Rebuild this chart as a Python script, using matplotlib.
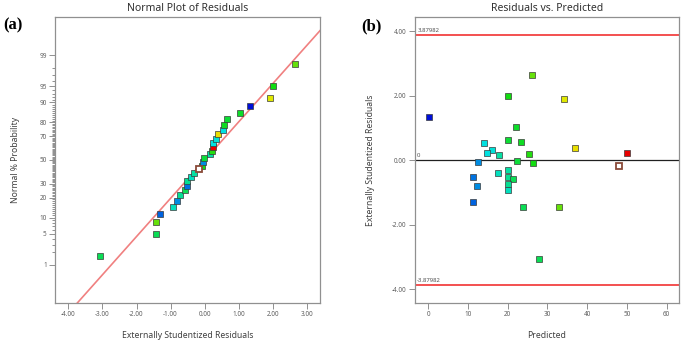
from statistics import NormalDist

import numpy as np
import matplotlib.pyplot as plt
from matplotlib.colors import LinearSegmentedColormap, Normalize

# predicted value, externally studentized residual and measured response per run
predicted = [26.0, 20.1, 34.1, 0.25, 22.1, 20.1, 23.3, 13.9, 16.0, 14.8,
             17.8, 36.9, 25.3, 50.1, 12.5, 22.4, 26.4, 48.0, 17.5, 11.2,
             20.1, 20.1, 21.4, 20.1, 20.1, 12.2, 11.2, 23.9, 33.0, 27.9]
residuals = [2.65, 2.00, 1.91, 1.34, 1.02, 0.64, 0.56, 0.55, 0.33, 0.24,
             0.16, 0.39, 0.20, 0.23, -0.04, -0.01, -0.07, -0.18, -0.39, -0.53,
             -0.30, -0.51, -0.59, -0.72, -0.93, -0.80, -1.30, -1.44, -1.44, -3.07]
actual = [31, 26, 38, 1, 24.5, 24, 25, 14, 14.5, 14,
          17.5, 39, 27, 51, 8.5, 23.5, 26, 48, 16, 7,
          17.5, 18.5, 22, 18.5, 16, 8.5, 6, 22, 31, 22]
highlight = 17  # run drawn as an open square

prob_ticks = [1, 5, 10, 20, 30, 50, 70, 80, 90, 95, 99]
limit = 3.87982
line_center, line_scale = 0.0, 1.175

nd = NormalDist()
cmap = LinearSegmentedColormap.from_list(
    'rainbow_de', ['#0010d8', '#00e0e8', '#10dc10', '#e8e800', '#e80000'])
norm = Normalize(vmin=1, vmax=51)

plt.rcParams['font.family'] = ['Noto Sans', 'DejaVu Sans']
tick_col = '#606060'
spine_col = '#909090'
label_col = '#404040'

fig = plt.figure(figsize=(6.85, 3.47), dpi=100)
ax1 = fig.add_axes([55 / 685, 44 / 347, 265 / 685, 286 / 347])
ax2 = fig.add_axes([415 / 685, 44 / 347, 264 / 685, 286 / 347])


def style_axes(ax):
    for s in ax.spines.values():
        s.set_color(spine_col)
        s.set_linewidth(0.9)
    ax.tick_params(axis='both', which='both', direction='out', colors=spine_col,
                   labelcolor=tick_col, labelsize=4.6, width=0.7, pad=2)
    ax.tick_params(which='major', length=4)
    ax.tick_params(which='minor', length=2.5)


def draw_points(ax, xs, ys, cols, special):
    for i, (xv, yv) in enumerate(zip(xs, ys)):
        if i == special:
            ax.plot(xv, yv, 's', ms=4.8, mfc='white', mec='#8a4a38', mew=1.3, zorder=4)
        else:
            ax.plot(xv, yv, 's', ms=4.8, mfc=cols[i], mec='#3a3a3a', mew=0.5, zorder=3)


# ---- (a) normal probability plot ----
order = np.argsort(residuals)
n = len(residuals)
sorted_res = [residuals[i] for i in order]
sorted_cols = [cmap(norm(actual[i])) for i in order]
quantiles = [nd.inv_cdf((k + 0.5) / n) for k in range(n)]
special_a = int(np.where(order == highlight)[0][0])

xl = np.array([-4.39, 3.38])
ax1.plot(xl, (xl - line_center) / line_scale, color='#f08080', lw=1.2, zorder=2)
draw_points(ax1, sorted_res, quantiles, sorted_cols, special_a)

ax1.set_xlim(-4.39, 3.38)
ax1.set_ylim(-3.18, 3.18)
ax1.set_xticks(np.arange(-4, 4, 1))
ax1.set_xticklabels([f'{v:.2f}' for v in np.arange(-4, 4, 1)])
ax1.set_yticks([nd.inv_cdf(p / 100) for p in prob_ticks])
ax1.set_yticklabels([str(p) for p in prob_ticks])
minor_p = [p for p in range(2, 99) if p not in prob_ticks]
ax1.set_yticks([nd.inv_cdf(p / 100) for p in minor_p], minor=True)
style_axes(ax1)
ax1.set_title('Normal Plot of Residuals', fontsize=7.5, color='#303030', pad=4)
ax1.set_xlabel('Externally Studentized Residuals', fontsize=6.2, color=label_col, labelpad=9)
ax1.set_ylabel('Normal % Probability', fontsize=6.2, color=label_col, labelpad=14)

# ---- (b) residuals vs predicted ----
cols_b = [cmap(norm(a)) for a in actual]
ax2.axhline(limit, color='#f02020', lw=1.1, zorder=1)
ax2.axhline(-limit, color='#f02020', lw=1.1, zorder=1)
ax2.axhline(0, color='#202020', lw=0.9, zorder=1)
draw_points(ax2, predicted, residuals, cols_b, highlight)

ax2.set_xlim(-3.35, 63.1)
ax2.set_ylim(-4.43, 4.45)
ax2.set_xticks(np.arange(0, 70, 10))
ax2.set_yticks(np.arange(-4, 5, 2))
ax2.set_yticklabels([f'{v:.2f}' for v in np.arange(-4, 5, 2)])
style_axes(ax2)
ax2.text(-2.8, limit + 0.06, f'{limit:.5f}', fontsize=4.3, color='#505050', va='bottom')
ax2.text(-2.8, -limit + 0.06, f'{-limit:.5f}', fontsize=4.3, color='#505050', va='bottom')
ax2.text(-2.8, 0.06, '0', fontsize=4.3, color='#505050', va='bottom')
ax2.set_title('Residuals vs. Predicted', fontsize=7.5, color='#303030', pad=4)
ax2.set_xlabel('Predicted', fontsize=6.2, color=label_col, labelpad=9)
ax2.set_ylabel('Externally Studentized Residuals', fontsize=6.2, color=label_col, labelpad=12)

fig.text(3 / 685, 1 - 25 / 347, '(a)', fontsize=12, fontweight='bold',
         family='Liberation Serif', va='center')
fig.text(361 / 685, 1 - 26 / 347, '(b)', fontsize=12, fontweight='bold',
         family='Liberation Serif', va='center')

fig.savefig('out.png', dpi=100)
